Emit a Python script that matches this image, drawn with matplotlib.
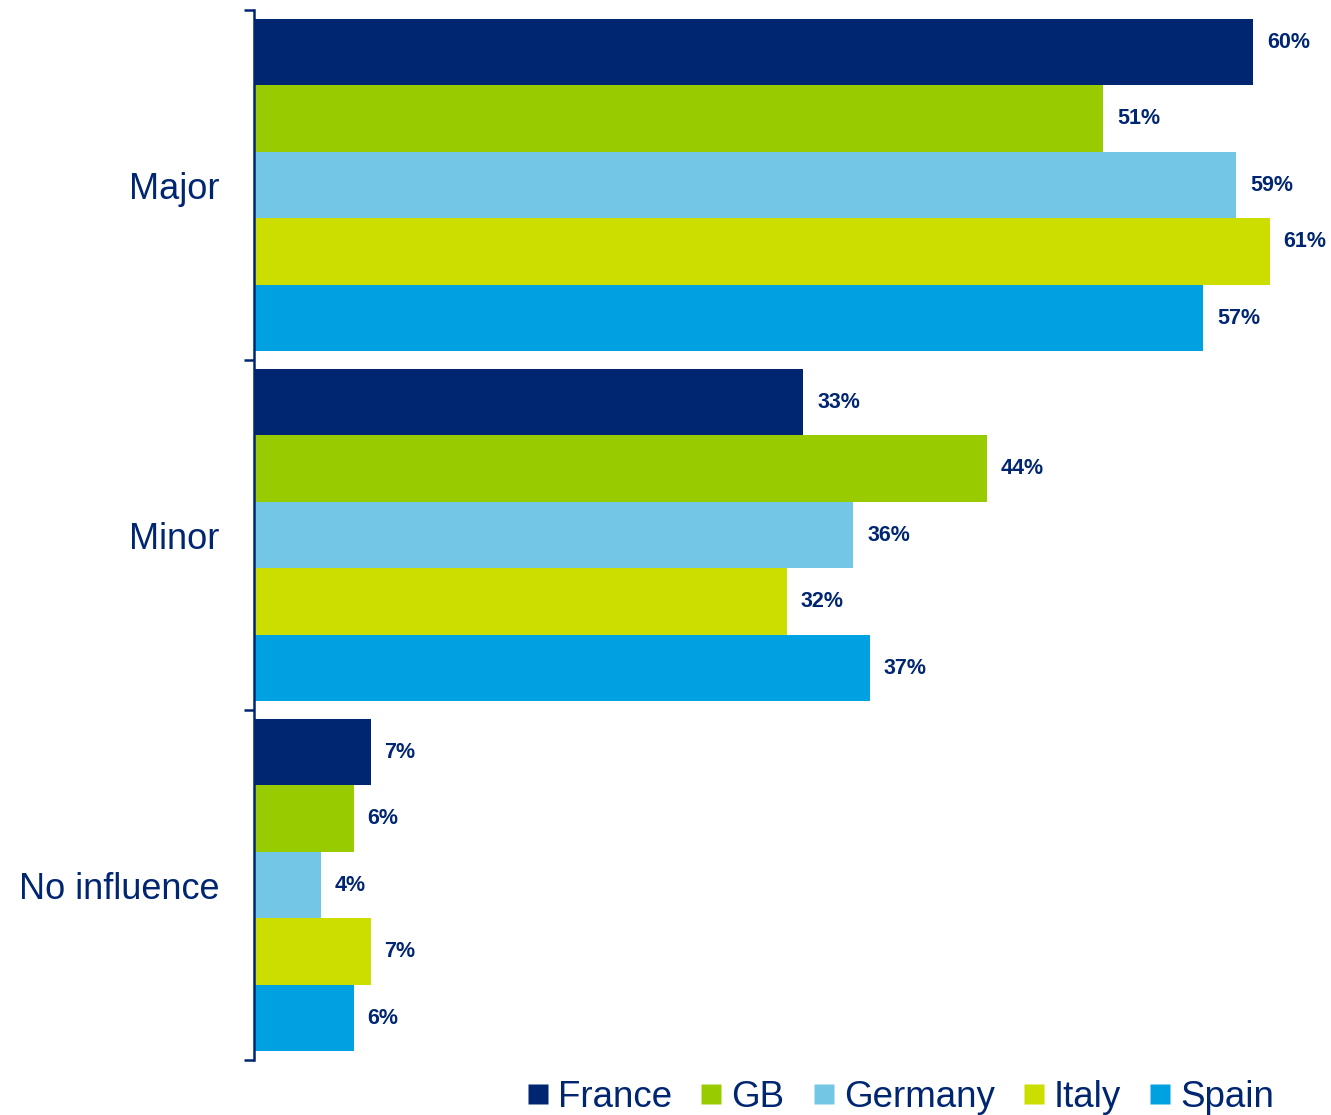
import numpy as np
import matplotlib
matplotlib.use("Agg")
import matplotlib.pyplot as plt
from matplotlib.lines import Line2D

# Chart data
categories = ["Major", "Minor", "No influence"]
countries = ["France", "GB", "Germany", "Italy", "Spain"]
france = [60, 33, 7]
gb = [51, 44, 6]
germany = [59, 36, 4]
italy = [61, 32, 7]
spain = [57, 37, 6]

navy = "#002672"
colors = ["#002672", "#99CC00", "#73C6E6", "#CCDD00", "#00A1E0"]

plt.rcParams["font.family"] = ["Liberation Sans", "DejaVu Sans"]

fig = plt.figure(figsize=(13.31, 11.15), dpi=100)
ax = fig.add_axes([0.1908, 0.0493, 0.8006, 0.9417])

series = [france, gb, germany, italy, spain]
bar_h = 0.19
offsets = (np.arange(len(series)) - 2) * bar_h
y = np.arange(len(categories))

# labels for the two longest Major bars sit a little higher in the original
nudge = {(0, 0): 10, (0, 3): 10}

for i, (vals, col) in enumerate(zip(series, colors)):
    ax.barh(y + offsets[i], vals, height=bar_h, color=col, edgecolor="none")
    for j, v in enumerate(vals):
        ax.annotate(f"{v}%", (v, y[j] + offsets[i]), xytext=(10, nudge.get((j, i), 0) * 0.72),
                    textcoords="offset points", va="center", ha="left",
                    fontsize=15.5, fontweight="bold", color=navy)

ax.set_xlim(0, 64)
ax.set_ylim(2.5, -0.5)

for s in ["top", "right", "bottom"]:
    ax.spines[s].set_visible(False)
ax.spines["left"].set_color(navy)
ax.spines["left"].set_linewidth(1.8)
ax.set_xticks([])

ax.set_yticks(y)
ax.set_yticklabels(categories, fontsize=26, color=navy)
ax.set_yticks([-0.5, 0.5, 1.5, 2.5], minor=True)
ax.tick_params(axis="y", which="major", length=0, pad=25)
ax.tick_params(axis="y", which="minor", length=7.5, width=1.8, color=navy)

handles = [Line2D([], [], marker="s", linestyle="none", markersize=14.5,
                  markerfacecolor=c, markeredgecolor="none") for c in colors]
leg = fig.legend(handles, countries, loc="center", bbox_to_anchor=(0.677, 0.016),
                 ncol=5, frameon=False, fontsize=26.5, handlelength=0.55,
                 handletextpad=0.28, columnspacing=0.78, borderpad=0)
for t in leg.get_texts():
    t.set_color(navy)

fig.savefig("out.png", dpi=100)
